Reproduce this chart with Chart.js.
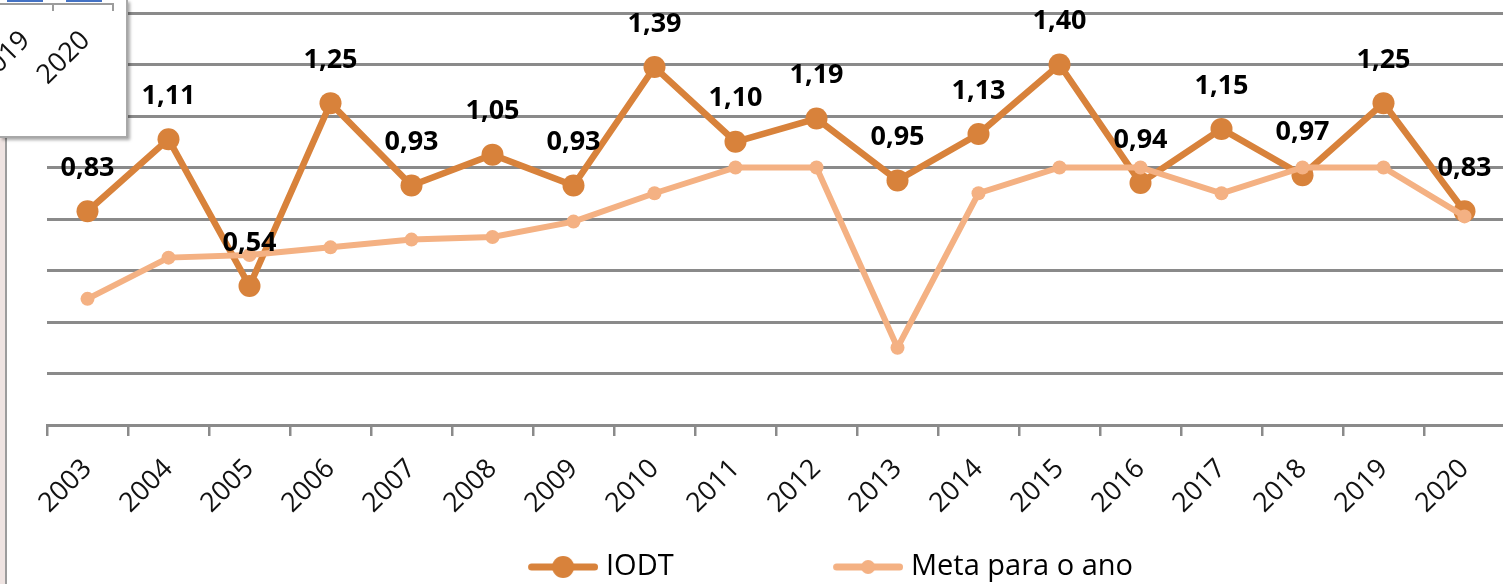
<!DOCTYPE html>
<html><head><meta charset="utf-8">
<script src="https://cdn.jsdelivr.net/npm/chart.js@4.4.1/dist/chart.umd.min.js"></script>
<style>
html,body{margin:0;padding:0;background:#fff;overflow:hidden;width:1503px;height:584px;position:relative}
#wrap{position:absolute;top:0;width:1540px;height:600px}
#strip{position:absolute;left:0;top:0;width:5px;height:584px;background:#efe4e2;z-index:2}
#stripLine{position:absolute;left:5px;top:0;width:2px;height:584px;background:#9c9c9c;z-index:2}
#box{position:absolute;left:0;top:0;width:126px;height:136px;background:#fff;border-right:2px solid #a8a8a8;border-bottom:2px solid #a8a8a8;box-shadow:2px 2px 3px rgba(0,0,0,0.35);z-index:3;overflow:hidden}
#box .bar{position:absolute;top:0;height:2px;background:#4472c4}
#box .ax{position:absolute;background:#9c9c9c}
#box .lab{position:absolute;font-family:"Open Sans";font-size:27px;color:#111;white-space:nowrap;transform:translate(-50%,-50%) rotate(-45deg)}
</style>
</head><body>
<div id="wrap"><canvas id="c"></canvas></div>
<div id="strip"></div><div id="stripLine"></div>
<div id="box">
  <div class="bar" style="left:7px;width:36px"></div>
  <div class="bar" style="left:66px;width:36px"></div>
  <div class="ax" style="left:0;top:3px;width:114px;height:2px"></div>
  <div class="ax" style="left:52px;top:3px;width:2px;height:8px"></div>
  <div class="ax" style="left:112px;top:3px;width:2px;height:8px"></div>
  <div class="lab" style="left:2px;top:56px">2019</div>
  <div class="lab" style="left:62px;top:56px">2020</div>
</div>
<script>
// ---- data ----
const years = ['2003','2004','2005','2006','2007','2008','2009','2010','2011','2012','2013','2014','2015','2016','2017','2018','2019','2020'];
const iodt = [0.83,1.11,0.54,1.25,0.93,1.05,0.93,1.39,1.10,1.19,0.95,1.13,1.40,0.94,1.15,0.97,1.25,0.83];
const meta = [0.49,0.65,0.66,0.69,0.72,0.73,0.79,0.90,1.00,1.00,0.30,0.90,1.00,1.00,0.90,1.00,1.00,0.81];
const seriesNames = ['IODT','Meta para o ano'];
const yMin = 0, yMax = 1.6, yStep = 0.2;

// ---- style / layout ----
const C_IODT = '#D8823B', C_META = '#F4B183', GRID = '#8a8a8a';
const OFF = 20;                 // canvas shifted left by OFF px
const W = 1540, H = 600;
const areaLeft = 47 + OFF, areaRight = 1505 + OFF;
const LF = 29, half = LF / 2, pad = 10, S = 70, g = 8;
const s1T = 528 + OFF, s2T = 833 + OFF;

document.getElementById('wrap').style.left = (-OFF) + 'px';

const mctx = document.createElement('canvas').getContext('2d');
mctx.font = LF + 'px "Open Sans"';
const t1 = mctx.measureText(seriesNames[0]).width;
const t2 = mctx.measureText(seriesNames[1]).width;
const PW = (s2T - s1T) - half - t1 - pad;
const IW = Math.round(PW + 2 * (half - g));
const x1 = s1T - PW - half + g + S;
const lineW = 2 * (PW + half + pad) + t1 + t2;
const padL = 2 * x1 - pad + lineW - areaRight;
const padR = W - areaRight;
const yW = areaLeft - padL;
const legendH = LF + pad + 10;
const legendTop = 567 - pad - half;
const padB = H - legendTop - legendH;
const xAxisH = legendTop - 425;

function legendIcon(color, lw, r) {
  const c = document.createElement('canvas');
  c.width = IW; c.height = 30;
  const x = c.getContext('2d');
  x.strokeStyle = color; x.lineWidth = lw; x.lineCap = 'round';
  x.beginPath(); x.moveTo(c.width - S + lw / 2, 15); x.lineTo(c.width - lw / 2, 15); x.stroke();
  x.fillStyle = color; x.beginPath(); x.arc(c.width - S / 2, 15, r, 0, 2 * Math.PI); x.fill();
  return c;
}
const icons = [legendIcon(C_IODT, 7, 11), legendIcon(C_META, 7, 7)];

const fmt = v => v.toFixed(2).replace('.', ',');

const valueLabels = {
  id: 'valueLabels',
  afterDatasetsDraw(chart) {
    const m = chart.getDatasetMeta(0);
    const ctx = chart.ctx;
    ctx.save();
    ctx.font = 'bold 27px "Open Sans"';
    ctx.fillStyle = '#000';
    ctx.textAlign = 'center';
    ctx.textBaseline = 'middle';
    m.data.forEach((pt, i) => ctx.fillText(fmt(chart.data.datasets[0].data[i]), pt.x, pt.y - 43));
    ctx.restore();
  }
};

new Chart(document.getElementById('c'), {
  type: 'line',
  data: {
    labels: years,
    datasets: [
      { label: seriesNames[0], data: iodt, borderColor: C_IODT, backgroundColor: C_IODT,
        borderWidth: 6.5, pointRadius: 11, pointHoverRadius: 11, pointBorderWidth: 0, tension: 0, order: 2 },
      { label: seriesNames[1], data: meta, borderColor: C_META, backgroundColor: C_META,
        borderWidth: 6, pointRadius: 7, pointHoverRadius: 7, pointBorderWidth: 0, tension: 0, order: 1 }
    ]
  },
  options: {
    responsive: true, maintainAspectRatio: false, animation: false,
    devicePixelRatio: 1,
    layout: { padding: { left: padL, right: padR, top: 13, bottom: padB } },
    plugins: {
      tooltip: { enabled: false },
      legend: {
        position: 'bottom', align: 'center',
        labels: {
          usePointStyle: true, pointStyleWidth: PW, padding: pad,
          font: { family: 'Open Sans', size: LF }, color: '#000',
          generateLabels: chart => chart.data.datasets.map((d, i) => ({
            text: d.label, pointStyle: icons[i], fillStyle: d.borderColor, strokeStyle: d.borderColor,
            lineWidth: 0, hidden: false, datasetIndex: i, fontColor: '#000'
          }))
        }
      }
    },
    scales: {
      x: {
        offset: true,
        grid: { offset: true, drawOnChartArea: false, drawTicks: true, tickLength: 11, color: GRID, lineWidth: 2.5 },
        border: { display: true, color: GRID, width: 3 },
        ticks: { autoSkip: false, minRotation: 45, maxRotation: 45, padding: 17, labelOffset: 0,
                 font: { family: 'Open Sans', size: 27 }, color: '#111' },
        afterFit: s => { s.height = xAxisH; }
      },
      y: {
        min: yMin, max: yMax,
        ticks: { display: false, stepSize: yStep },
        grid: { color: GRID, lineWidth: 3, drawTicks: false },
        border: { display: false },
        afterFit: s => { s.width = yW; }
      }
    }
  },
  plugins: [valueLabels]
});
</script>
</body></html>
